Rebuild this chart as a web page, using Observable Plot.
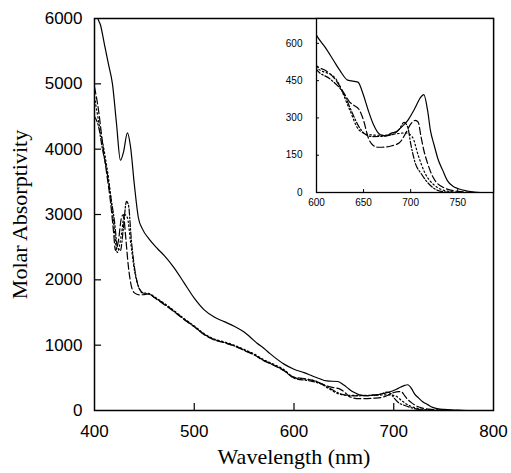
<!DOCTYPE html>
<html><head><meta charset="utf-8">
<script src="https://cdn.jsdelivr.net/npm/d3@7"></script>
<script src="https://cdn.jsdelivr.net/npm/@observablehq/plot@0.6"></script>
<style>
body{margin:0;background:#fff}
#wrap{position:relative;width:511px;height:473px}
#wrap svg{position:absolute;left:0;top:0}
</style>
</head><body><div id="wrap"></div>
<script>
// ---- tick labels ----
const xTicksMain = [400, 500, 600, 700, 800];
const yTicksMain = [0, 1000, 2000, 3000, 4000, 5000, 6000];
const xTicksInset = [600, 650, 700, 750];
const yTicksInset = [0, 150, 300, 450, 600];
const xLabel = "Wavelength (nm)";
const yLabel = "Molar Absorptivity";

// ---- series A (solid) ----
const wlA = [400,403,406,410,414,418,422,426,429,433,436,440,444,448,455,463,470,480,490,500,510,520,530,540,550,556,563,570,576,590,600,610,618,625,633,644,650,655,660,668,674,679,685,690,697,704,711,714,718,721,725,729,734,739,745,750,760,774,790,800];
const absA = [6300,6020,5900,5600,5300,5000,4400,3830,3950,4250,4050,3450,2950,2780,2620,2480,2370,2180,1950,1720,1540,1430,1360,1290,1200,1125,1030,950,870,710,632,580,532,490,452,444,390,330,278,232,228,238,245,262,290,335,385,394,330,250,190,135,90,48,25,16,6,0,0,0];

// ---- series B (long dash) ----
const wlB = [400,404,408,412,416,419,421,424,427,429,431,434,437,440,445,450,455,460,470,480,490,500,510,520,530,540,550,560,570,580,590,600,610,620,630,635,640,645,650,655,660,665,670,680,688,695,700,705,708,711,714,718,724,735,750,770,800];
const absB = [4950,4600,4100,3650,3200,2750,2450,2600,2950,3000,2700,2200,1900,1800,1770,1775,1785,1730,1620,1510,1390,1280,1160,1080,1040,990,920,850,760,690,610,510,490,455,395,365,350,335,290,220,190,182,182,188,200,240,275,290,283,225,170,117,60,20,5,0,0];

// ---- series C (dash-dot) ----
const wlC = [400,404,408,412,416,420,423,426,429,432,434,437,440,443,447,450,455,460,470,480,490,500,510,520,530,540,550,560,570,580,590,600,615,630,638,645,650,655,660,670,680,688,693,697,700,705,711,721,735,750,800];
const absC = [4500,4350,4000,3700,3300,2900,2500,2450,2800,3200,3150,2600,2200,1950,1820,1790,1780,1730,1630,1515,1395,1285,1165,1085,1040,990,925,855,765,695,610,495,455,390,320,265,240,228,225,226,232,255,282,262,198,117,77,28,3,0,0];

// ---- series D (dotted) ----
const wlD = [400,405,410,415,419,423,427,430,433,436,440,444,448,455,460,470,480,490,500,510,520,530,540,550,560,570,580,590,600,620,635,645,655,670,685,695,702,708,715,725,740,760,800];
const absD = [4800,4350,3950,3450,2900,2420,2700,3000,2950,2600,2150,1900,1800,1790,1740,1640,1525,1405,1295,1175,1095,1050,1000,935,865,775,705,625,505,460,335,252,233,230,236,240,222,150,80,30,5,0,0];

const rows = (wl, v) => wl.map((w, i) => ({wl: w, v: v[i]}));
const series = [
  {data: rows(wlA, absA), dash: null},
  {data: rows(wlB, absB), dash: "7,3"},
  {data: rows(wlC, absC), dash: "6,2,1.5,2"},
  {data: rows(wlD, absD), dash: "1.5,2.5"}
];
const lineMarks = () => series.map(s => Plot.line(s.data, {
  x: "wl", y: "v", stroke: "black", strokeWidth: 1.2,
  strokeDasharray: s.dash, curve: "monotone-x", clip: true
}));
const fmt = d3.format("d");
const serif = "'Liberation Serif', 'Times New Roman', serif";

const main = Plot.plot({
  width: 511, height: 473,
  marginLeft: 94, marginRight: 18, marginTop: 18, marginBottom: 63,
  style: {fontFamily: "'Liberation Sans', Arial, sans-serif", fontSize: "17px", color: "black", background: "transparent"},
  x: {domain: [400, 800]},
  y: {domain: [0, 6000]},
  marks: [
    Plot.frame({stroke: "black", strokeWidth: 1.5}),
    Plot.axisX(xTicksMain, {tickSize: 0, tickPadding: 14, fontSize: 17, tickFormat: fmt, label: null}),
    Plot.axisY(yTicksMain, {tickSize: 0, tickPadding: 12, fontSize: 17, tickFormat: fmt, label: null}),
    Plot.tickX(xTicksMain.slice(1, -1), {x: d => d, insetTop: 385, stroke: "black", strokeWidth: 1.2}),
    Plot.tickY(yTicksMain.slice(1, -1), {y: d => d, insetRight: 392, stroke: "black", strokeWidth: 1.2}),
    ...lineMarks(),
    Plot.text([xLabel], {text: d => d, frameAnchor: "bottom", lineAnchor: "middle", textAnchor: "middle", dy: 46, fontFamily: serif, fontSize: 22, fill: "black"}),
    Plot.text([yLabel], {text: d => d, frameAnchor: "left", lineAnchor: "middle", textAnchor: "middle", dx: -75, rotate: -90, fontFamily: serif, fontSize: 22, fill: "black"})
  ]
});

const inset = Plot.plot({
  width: 511, height: 473,
  marginLeft: 316, marginRight: 18, marginTop: 18, marginBottom: 281,
  style: {fontFamily: "'Liberation Sans', Arial, sans-serif", fontSize: "10px", color: "black", background: "transparent"},
  x: {domain: [600, 788]},
  y: {domain: [0, 700]},
  marks: [
    Plot.frame({fill: "white", stroke: "black", strokeWidth: 1.3}),
    Plot.axisX(xTicksInset, {tickSize: 0, tickPadding: 6, fontSize: 10, tickFormat: fmt, label: null}),
    Plot.axisY(yTicksInset, {tickSize: 0, tickPadding: 14, fontSize: 10, tickFormat: fmt, label: null}),
    Plot.tickX(xTicksInset.slice(1), {x: d => d, insetTop: 171, stroke: "black"}),
    Plot.tickY(yTicksInset.slice(1), {y: d => d, insetRight: 174, stroke: "black"}),
    ...lineMarks()
  ]
});

const wrap = document.getElementById("wrap");
wrap.appendChild(main);
wrap.appendChild(inset);
</script>
</body></html>
